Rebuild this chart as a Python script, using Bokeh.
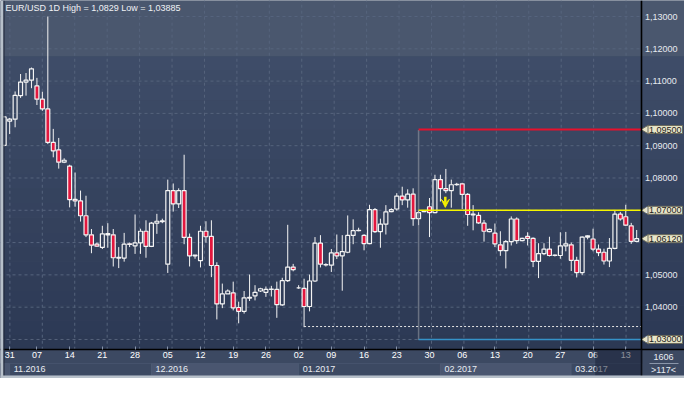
import numpy as np
from bokeh.plotting import figure
from bokeh.models import (Range1d, FixedTicker, Label, BoxAnnotation, Arrow,
                          VeeHead, ColumnDataSource, LinearAxis)
from bokeh.embed import file_html
from bokeh.resources import INLINE

title_text = "EUR/USD 1D High = 1,0829 Low = 1,03885"

opens = [1.0901, 1.0976, 1.0982, 1.1055, 1.1097, 1.1103, 1.1085, 1.1044, 1.1014, 1.0910,
         1.0887, 1.0849, 1.0837, 1.0734, 1.0729, 1.0683, 1.0624, 1.0595, 1.0585, 1.0624,
         1.0624, 1.0554, 1.0552, 1.0596, 1.0590, 1.0599, 1.0635, 1.0588, 1.0660, 1.0667,
         1.0533, 1.0761, 1.0720, 1.0761, 1.0616, 1.0561, 1.0544, 1.0635, 1.0619, 1.0529,
         1.0410, 1.0441, 1.0444, 1.0399, 1.0387, 1.0430, 1.0435, 1.0450, 1.0446, 1.0456,
         1.0455, 1.0407, 1.0482, 1.0524, 1.0460, 1.0458, 1.0402, 1.0481, 1.0598, 1.0532,
         1.0530, 1.0568, 1.0559, 1.0570, 1.0622, 1.0638, 1.0622, 1.0597, 1.0702, 1.0634,
         1.0657, 1.0696, 1.0704, 1.0744, 1.0732, 1.0750, 1.0674, 1.0696, 1.0711, 1.0693,
         1.0795, 1.0767, 1.0761, 1.0779, 1.0782, 1.0749, 1.0688, 1.0684, 1.0660, 1.0634,
         1.0629, 1.0593, 1.0575, 1.0603, 1.0673, 1.0606, 1.0619, 1.0613, 1.0542, 1.0566,
         1.0580, 1.0560, 1.0560, 1.0590, 1.0593, 1.0545, 1.0507, 1.0617, 1.0611, 1.0580,
         1.0570, 1.0543, 1.0582, 1.0688, 1.0680, 1.0652, 1.0604]
highs = [1.0992, 1.0986, 1.1068, 1.1122, 1.1125, 1.1142, 1.1110, 1.1067, 1.1300, 1.0952,
         1.0924, 1.0861, 1.0841, 1.0817, 1.0761, 1.0745, 1.0642, 1.0600, 1.0652, 1.0660,
         1.0642, 1.0586, 1.0630, 1.0600, 1.0687, 1.0643, 1.0669, 1.0664, 1.0689, 1.0674,
         1.0795, 1.0783, 1.0768, 1.0872, 1.0628, 1.0561, 1.0652, 1.0666, 1.0669, 1.0539,
         1.0473, 1.0455, 1.0479, 1.0417, 1.0450, 1.0501, 1.0468, 1.0460, 1.0464, 1.0466,
         1.0479, 1.0491, 1.0655, 1.0534, 1.0468, 1.0488, 1.0501, 1.0617, 1.0623, 1.0536,
         1.0580, 1.0625, 1.0623, 1.0684, 1.0672, 1.0646, 1.0626, 1.0717, 1.0707, 1.0674,
         1.0716, 1.0706, 1.0753, 1.0773, 1.0765, 1.0768, 1.0699, 1.0699, 1.0738, 1.0810,
         1.0810, 1.0828, 1.0795, 1.0785, 1.0785, 1.0753, 1.0716, 1.0694, 1.0670, 1.0643,
         1.0659, 1.0635, 1.0608, 1.0681, 1.0678, 1.0615, 1.0632, 1.0616, 1.0598, 1.0598,
         1.0618, 1.0563, 1.0632, 1.0633, 1.0600, 1.0556, 1.0619, 1.0623, 1.0643, 1.0594,
         1.0581, 1.0614, 1.0698, 1.0695, 1.0717, 1.0661, 1.0639]
lows = [1.0898, 1.0936, 1.0957, 1.1048, 1.1055, 1.1078, 1.1026, 1.1008, 1.0905, 1.0864,
        1.0829, 1.0846, 1.0709, 1.0711, 1.0665, 1.0617, 1.0567, 1.0587, 1.0580, 1.0584,
        1.0526, 1.0521, 1.0541, 1.0586, 1.0565, 1.0565, 1.0553, 1.0586, 1.0627, 1.0660,
        1.0506, 1.0696, 1.0707, 1.0595, 1.0526, 1.0550, 1.0523, 1.0600, 1.0493, 1.0362,
        1.0397, 1.0441, 1.0390, 1.0350, 1.0380, 1.0419, 1.0421, 1.0447, 1.0432, 1.0433,
        1.0367, 1.0404, 1.0478, 1.0511, 1.0457, 1.0338, 1.0387, 1.0478, 1.0523, 1.0526,
        1.0509, 1.0549, 1.0451, 1.0567, 1.0595, 1.0635, 1.0576, 1.0595, 1.0630, 1.0584,
        1.0625, 1.0694, 1.0699, 1.0716, 1.0708, 1.0652, 1.0654, 1.0694, 1.0617, 1.0691,
        1.0727, 1.0753, 1.0708, 1.0776, 1.0704, 1.0652, 1.0638, 1.0658, 1.0603, 1.0632,
        1.0586, 1.0559, 1.0520, 1.0591, 1.0596, 1.0604, 1.0591, 1.0524, 1.0490, 1.0561,
        1.0557, 1.0557, 1.0550, 1.0573, 1.0512, 1.0492, 1.0499, 1.0610, 1.0573, 1.0558,
        1.0532, 1.0524, 1.0579, 1.0668, 1.0651, 1.0596, 1.0601]
closes = [1.0989, 1.0982, 1.1056, 1.1097, 1.1103, 1.1138, 1.1044, 1.1014, 1.0910, 1.0884,
          1.0849, 1.0855, 1.0733, 1.0729, 1.0683, 1.0624, 1.0592, 1.0589, 1.0627, 1.0628,
          1.0553, 1.0552, 1.0595, 1.0594, 1.0599, 1.0635, 1.0588, 1.0660, 1.0666, 1.0665,
          1.0761, 1.0720, 1.0761, 1.0616, 1.0559, 1.0559, 1.0635, 1.0618, 1.0529, 1.0410,
          1.0441, 1.0450, 1.0398, 1.0387, 1.0429, 1.0428, 1.0446, 1.0457, 1.0455, 1.0455,
          1.0408, 1.0482, 1.0524, 1.0516, 1.0460, 1.0402, 1.0481, 1.0598, 1.0533, 1.0531,
          1.0568, 1.0559, 1.0572, 1.0622, 1.0637, 1.0637, 1.0597, 1.0702, 1.0634, 1.0657,
          1.0695, 1.0702, 1.0744, 1.0732, 1.0750, 1.0674, 1.0693, 1.0697, 1.0693, 1.0795,
          1.0767, 1.0761, 1.0779, 1.0780, 1.0749, 1.0687, 1.0686, 1.0661, 1.0635, 1.0641,
          1.0596, 1.0575, 1.0603, 1.0673, 1.0606, 1.0613, 1.0613, 1.0542, 1.0566, 1.0580,
          1.0560, 1.0561, 1.0590, 1.0596, 1.0545, 1.0507, 1.0617, 1.0621, 1.0580, 1.0569,
          1.0543, 1.0582, 1.0688, 1.0673, 1.0654, 1.0604, 1.0612]

day_tick_index = [1, 6, 12, 18, 24, 30, 36, 42, 48, 54, 60, 66, 72, 78, 84, 90, 96, 102, 108, 114]
day_tick_labels = ["31", "07", "14", "21", "28", "05", "12", "19", "26", "02",
                   "09", "16", "23", "30", "06", "13", "20", "27", "06", "13"]
month_start_index = [1, 27, 54, 80, 104]
month_labels = ["11.2016", "12.2016", "01.2017", "02.2017", "03.2017"]
price_ticks = [1.03, 1.04, 1.05, 1.06, 1.07, 1.08, 1.09, 1.10, 1.11, 1.12, 1.13]
price_tick_labels = ["1,03000", "1,04000", "1,05000", "", "1,07000", "1,08000",
                     "1,09000", "1,10000", "1,11000", "1,12000", "1,13000"]
upper_zone_from = 1.11773

target_price = 1.095
entry_price = 1.07
stop_price = 1.03
tool_start_index = 76
low_line_price = 1.0340
low_line_start_index = 55
signal_index = [80.9]
signal_from = [1.0742]
signal_to = [1.0709]
tag_prices = [1.095, 1.07, 1.0612, 1.03]
tag_texts = ["1,09500", "1,07000", "1,06120", "1,03000"]
corner_top = "1606"
corner_bottom = ">117<"
current_week_index = 108

# ---- layout constants (frame covers the whole canvas) ----
FONT = "Liberation Sans"
FS = "9px"
W, H = 684, 378
X_LO, X_HI = -0.680, 124.77
Y_LO, Y_HI = 1.01791, 1.13496
AXIS_X = 116.97
PLOT_BOTTOM = 1.02682
grid_x = [1.04 + 5.948 * k for k in range(20)]

n = len(opens)
idx = np.arange(n)
o = np.array(opens); c = np.array(closes); h = np.array(highs); l = np.array(lows)
btop = np.maximum(o, c)
bbot = np.minimum(o, c)
up = c >= o

p = figure(width=W, height=H, x_range=Range1d(X_LO, X_HI), y_range=Range1d(Y_LO, Y_HI),
           output_backend="svg", toolbar_location=None, min_border=0,
           background_fill_color="#3c4962", border_fill_color="#3c4962",
           outline_line_color=None)
p.xgrid.visible = False
p.ygrid.visible = False

# ---- backgrounds ----
nb = 20
edges = np.linspace(PLOT_BOTTOM, upper_zone_from, nb + 1)
c_bot = np.array([44, 57, 84]); c_top = np.array([62, 76, 104])
for k in range(nb):
    t = (k + 0.5) / nb
    col = tuple(int(round(v)) for v in (c_bot + (c_top - c_bot) * t))
    p.add_layout(BoxAnnotation(bottom=edges[k], top=edges[k + 1],
                               fill_color="#%02x%02x%02x" % col, fill_alpha=1,
                               line_alpha=0, level="image"))
p.add_layout(BoxAnnotation(bottom=upper_zone_from, fill_color="#4a576e", fill_alpha=1,
                           line_alpha=0, level="image"))
p.add_layout(BoxAnnotation(top=PLOT_BOTTOM, fill_color="#3c4962", fill_alpha=1,
                           line_alpha=0, level="image"))

# month boxes in the time-axis row
box_l = [X_LO] + month_start_index
box_r = month_start_index + [AXIS_X]
fills = ["#4a5670", "#3c4962"]
for k in range(len(box_l)):
    p.add_layout(BoxAnnotation(left=box_l[k], right=box_r[k], top=15, bottom=3,
                               top_units="screen", bottom_units="screen",
                               fill_color=fills[k % 2], fill_alpha=1,
                               line_color="#5e6b83", line_width=1, level="underlay"))

# ---- grid (dashed) ----
p.segment(x0=X_LO, y0=price_ticks, x1=AXIS_X, y1=price_ticks,
          line_color="#56647d", line_dash="3 3", line_width=1)
p.segment(x0=grid_x, y0=PLOT_BOTTOM, x1=grid_x, y1=Y_HI,
          line_color="#56647d", line_dash="3 3", line_width=1)

# ---- axes drawn at fixed locations inside the canvas ----
p.xaxis.fixed_location = PLOT_BOTTOM
p.xaxis.ticker = FixedTicker(ticks=day_tick_index)
p.xaxis.major_label_overrides = {i: t for i, t in zip(day_tick_index, day_tick_labels)}
p.xaxis.major_tick_in = 3
p.xaxis.major_tick_line_color = "#8a97ad"
p.xaxis.major_label_standoff = 2
p.xaxis.major_label_text_color = "#ffffff"

p.yaxis.visible = False
ry = LinearAxis(fixed_location=AXIS_X, ticker=FixedTicker(ticks=price_ticks))
ry.major_label_overrides = {v: t for v, t in zip(price_ticks, price_tick_labels)}
ry.major_tick_in = 0
ry.major_tick_line_color = None
ry.major_label_standoff = 3
ry.major_label_text_color = "#e6eaf0"
p.add_layout(ry, "right")
for ax in (p.xaxis[0], ry):
    ax.axis_line_color = "#000000"
    ax.axis_line_width = 1.6
    ax.major_tick_out = 0
    ax.minor_tick_line_color = None
    ax.major_label_text_font = FONT
    ax.major_label_text_font_size = FS

# month labels
for k, lab in enumerate(month_labels):
    p.add_layout(Label(x=month_start_index[k], y=9.5, y_units="screen", x_offset=4,
                       text=lab, text_baseline="middle", text_align="left",
                       text_color="#e8ecf2", text_font=FONT, text_font_size=FS))

# ---- candles ----
p.segment(x0=idx, y0=btop, x1=idx, y1=h, line_color="#f4f4f4", line_width=1)
p.segment(x0=idx, y0=l, x1=idx, y1=bbot, line_color="#f4f4f4", line_width=1)
p.vbar(x=idx[up], width=0.72, top=btop[up], bottom=bbot[up],
       fill_alpha=0, line_color="#f4f4f4", line_width=1.2)
p.vbar(x=idx[~up], width=0.72, top=btop[~up], bottom=bbot[~up],
       fill_color="#e3173e", line_color="#f4f4f4", line_width=1.2)

# ---- drawing tool levels ----
p.segment(x0=[low_line_start_index], y0=[low_line_price], x1=[AXIS_X], y1=[low_line_price],
          line_color="#e6e6e6", line_dash="2 2", line_width=1)
p.segment(x0=[tool_start_index], y0=[stop_price], x1=[tool_start_index], y1=[target_price],
          line_color="#a4a8ad", line_dash="1 1", line_width=1.5)
p.segment(x0=[tool_start_index], y0=[target_price], x1=[AXIS_X], y1=[target_price],
          line_color="#e8112d", line_width=2)
p.segment(x0=[tool_start_index], y0=[entry_price], x1=[AXIS_X], y1=[entry_price],
          line_color="#f4f400", line_width=1.6)
p.segment(x0=[tool_start_index], y0=[stop_price], x1=[AXIS_X], y1=[stop_price],
          line_color="#3592c8", line_width=1.6)

sig = ColumnDataSource(dict(x=signal_index, y0=signal_from, y1=signal_to))
p.add_layout(Arrow(source=sig, x_start="x", y_start="y0", x_end="x", y_end="y1",
                   line_color="#f4ee00", line_width=2.5,
                   end=VeeHead(size=8, fill_color="#f4ee00", line_color="#f4ee00")))

# ---- price tags on the axis ----
p.scatter(x=[AXIS_X + 0.75] * len(tag_prices), y=tag_prices, marker="triangle",
          angle=np.pi / 2, size=9, fill_color="#e8e5c8", line_color="#6a6a5c", line_width=1)
for pr, tx in zip(tag_prices, tag_texts):
    p.add_layout(Label(x=647.5, y=pr, x_units="screen", text=tx,
                       text_baseline="middle", text_align="left",
                       text_color="#1c1c1c", text_font=FONT, text_font_size=FS,
                       background_fill_color="#e8e5c8", background_fill_alpha=1,
                       border_line_color="#6a6a5c", border_line_width=1, padding=1))

# ---- title ----
p.add_layout(Label(x=5, y=H - 2, x_units="screen", y_units="screen", text=title_text,
                   text_baseline="top", text_align="left", text_color="#f0f2f5",
                   text_font=FONT, text_font_size=FS))

# ---- corner counters ----
p.add_layout(Label(x=663, y=21.4, x_units="screen", y_units="screen", text=corner_top,
                   text_baseline="middle", text_align="center", text_color="#e8ecf2",
                   text_font=FONT, text_font_size=FS))
p.add_layout(Label(x=663, y=8.6, x_units="screen", y_units="screen", text=corner_bottom,
                   text_baseline="middle", text_align="center", text_color="#e8ecf2",
                   text_font=FONT, text_font_size=FS))
p.add_layout(BoxAnnotation(left=649, right=678, top=15.5, bottom=14.5,
                           left_units="screen", right_units="screen",
                           top_units="screen", bottom_units="screen",
                           fill_color="#8a96aa", fill_alpha=1, line_alpha=0))

# ---- current week shade over the time axis ----
p.add_layout(BoxAnnotation(left=current_week_index + 0.4, right=AXIS_X, top=PLOT_BOTTOM,
                           bottom=3, bottom_units="screen",
                           fill_color="#161d33", fill_alpha=0.5, line_alpha=0,
                           level="overlay"))

# ---- window frame strips ----
p.add_layout(BoxAnnotation(right=3, right_units="screen", fill_color="#b7c0ca",
                           fill_alpha=1, line_alpha=0, level="overlay"))
p.add_layout(BoxAnnotation(left=3, right=4, left_units="screen", right_units="screen",
                           fill_color="#1e2638", fill_alpha=1, line_alpha=0, level="overlay"))
p.add_layout(BoxAnnotation(top=3, top_units="screen", fill_color="#b7c0ca",
                           fill_alpha=1, line_alpha=0, level="overlay"))

open("out.html", "w").write(file_html(p, INLINE))
